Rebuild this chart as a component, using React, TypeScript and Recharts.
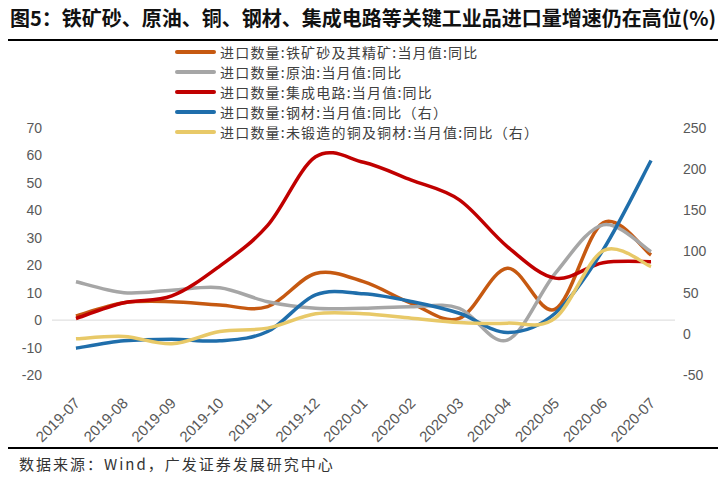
import {
    Legend,
    Line,
    LineChart,
    ReferenceLine,
    XAxis,
    YAxis,
} from "recharts";

const months = [
    "2019-07", "2019-08", "2019-09", "2019-10", "2019-11", "2019-12",
    "2020-01", "2020-02", "2020-03", "2020-04", "2020-05", "2020-06", "2020-07",
];
// left axis (%)
const ironOre = [1.5, 6.3, 6.7, 5.5, 4.9, 17, 14, 6.1, 0.6, 18.9, 4, 35.5, 23.7];
const crudeOil = [14, 10, 10.9, 11.8, 6.7, 4.3, 4.3, 4.9, 4.3, -7.3, 17, 34.7, 24.9];
const chips = [0.6, 6.3, 8.8, 19.7, 34.5, 59.5, 57.5, 51, 43.8, 26.8, 15.3, 20.9, 21.3];
// right axis (%)
const steel = [-17.4, -8.5, -6.5, -8.5, 2.8, 47.4, 48.6, 39.3, 25, 1.6, 25, 102, 210.5];
const copper = [-6.1, -3.2, -12.1, 2.8, 6.9, 24.3, 24.3, 19, 13.8, 13, 19, 101, 81.7];

const leftTicks = [-20, -10, 0, 10, 20, 30, 40, 50, 60, 70];
const rightTicks = [-50, 0, 50, 100, 150, 200, 250];

const series = [
    { key: "ironOre", name: "进口数量:铁矿砂及其精矿:当月值:同比", color: "#C65911", axis: "left" },
    { key: "crudeOil", name: "进口数量:原油:当月值:同比", color: "#A6A6A6", axis: "left" },
    { key: "chips", name: "进口数量:集成电路:当月值:同比", color: "#C00000", axis: "left" },
    { key: "steel", name: "进口数量:钢材:当月值:同比（右）", color: "#1F6EAB", axis: "right" },
    { key: "copper", name: "进口数量:未锻造的铜及铜材:当月值:同比（右）", color: "#E8C968", axis: "right" },
];

const data = months.map((month, i) => ({
    month,
    ironOre: ironOre[i],
    crudeOil: crudeOil[i],
    chips: chips[i],
    steel: steel[i],
    copper: copper[i],
}));

// excel style smoothing (catmull-rom through the points)
const excelSmooth = (context: any) => {
    let pts: number[][] = [];
    return {
        areaStart() {},
        areaEnd() {},
        lineStart() {
            pts = [];
        },
        point(x: number, y: number) {
            pts.push([+x, +y]);
        },
        lineEnd() {
            if (!pts.length) return;
            context.moveTo(pts[0][0], pts[0][1]);
            for (let i = 0; i < pts.length - 1; i++) {
                const p0 = pts[i - 1] || pts[i];
                const p1 = pts[i];
                const p2 = pts[i + 1];
                const p3 = pts[i + 2] || p2;
                context.bezierCurveTo(
                    p1[0] + (p2[0] - p0[0]) / 6,
                    p1[1] + (p2[1] - p0[1]) / 6,
                    p2[0] - (p3[0] - p1[0]) / 6,
                    p2[1] - (p3[1] - p1[1]) / 6,
                    p2[0],
                    p2[1]
                );
            }
        },
    };
};

const axisFont = "'Liberation Sans', Arial, sans-serif";
const cjkFont = "'Noto Sans CJK SC', sans-serif";

const MonthTick = ({ x, y, payload }: any) => (
    <g transform={`translate(${x + 5},${y + 21})`}>
        <text
            textAnchor="end"
            transform="rotate(-45)"
            fontSize={15}
            fill="#595959"
            fontFamily={axisFont}
        >
            {payload.value}
        </text>
    </g>
);

const LegendBox = () => (
    <div>
        {series.map((s) => (
            <div
                key={s.key}
                style={{ display: "flex", alignItems: "center", height: 20 }}
            >
                <div
                    style={{
                        width: 41,
                        height: 4,
                        borderRadius: 2,
                        background: s.color,
                        marginRight: 4,
                    }}
                />
                <span
                    style={{
                        fontFamily: cjkFont,
                        fontSize: 14,
                        letterSpacing: 1.2,
                        color: "#404040",
                        whiteSpace: "nowrap",
                    }}
                >
                    {s.name}
                </span>
            </div>
        ))}
    </div>
);

const App = () => {
    return (
        <div
            style={{
                position: "absolute",
                left: 0,
                top: 0,
                width: 726,
                height: 478,
                background: "#fff",
            }}
        >
            <div
                style={{
                    position: "absolute",
                    left: 10,
                    top: 3,
                    fontFamily: cjkFont,
                    fontWeight: 700,
                    fontSize: 20,
                    color: "#111",
                    whiteSpace: "nowrap",
                }}
            >
                图5：铁矿砂、原油、铜、钢材、集成电路等关键工业品进口量增速仍在高位(%)
            </div>
            <div
                style={{
                    position: "absolute",
                    left: 8,
                    top: 39,
                    width: 710,
                    height: 2,
                    background: "#000",
                }}
            />
            <LineChart
                width={726}
                height={478}
                data={data}
                margin={{ top: 128, right: 0, bottom: 0, left: 0 }}
            >
                <XAxis
                    dataKey="month"
                    scale="band"
                    interval={0}
                    height={103}
                    axisLine={false}
                    tickLine={false}
                    tick={<MonthTick />}
                />
                <YAxis
                    yAxisId="left"
                    domain={[-20, 70]}
                    ticks={leftTicks}
                    width={52}
                    axisLine={false}
                    tickLine={false}
                    tickSize={0}
                    tickMargin={10}
                    tick={{ fontSize: 14, fill: "#595959", fontFamily: axisFont }}
                />
                <YAxis
                    yAxisId="right"
                    orientation="right"
                    domain={[-50, 250]}
                    ticks={rightTicks}
                    width={51}
                    axisLine={false}
                    tickLine={false}
                    tickSize={0}
                    tickMargin={8}
                    tick={{ fontSize: 14, fill: "#595959", fontFamily: axisFont }}
                />
                <ReferenceLine yAxisId="left" y={0} stroke="#D9D9D9" strokeWidth={1} />
                {series.map((s) => (
                    <Line
                        key={s.key}
                        yAxisId={s.axis}
                        dataKey={s.key}
                        name={s.name}
                        type={excelSmooth as any}
                        stroke={s.color}
                        strokeWidth={3.5}
                        dot={false}
                        isAnimationActive={false}
                    />
                ))}
                <Legend
                    layout="vertical"
                    align="center"
                    verticalAlign="middle"
                    content={<LegendBox />}
                    wrapperStyle={{ top: 42, left: 175, width: "auto", height: "auto" }}
                />
            </LineChart>
            <div
                style={{
                    position: "absolute",
                    left: 8,
                    top: 447,
                    width: 710,
                    height: 2,
                    background: "#000",
                }}
            />
            <div
                style={{
                    position: "absolute",
                    left: 19,
                    top: 453,
                    fontFamily: cjkFont,
                    fontSize: 15,
                    letterSpacing: 2,
                    color: "#333",
                    whiteSpace: "nowrap",
                }}
            >
                数据来源：Wind，广发证券发展研究中心
            </div>
        </div>
    );
};

export default App;
